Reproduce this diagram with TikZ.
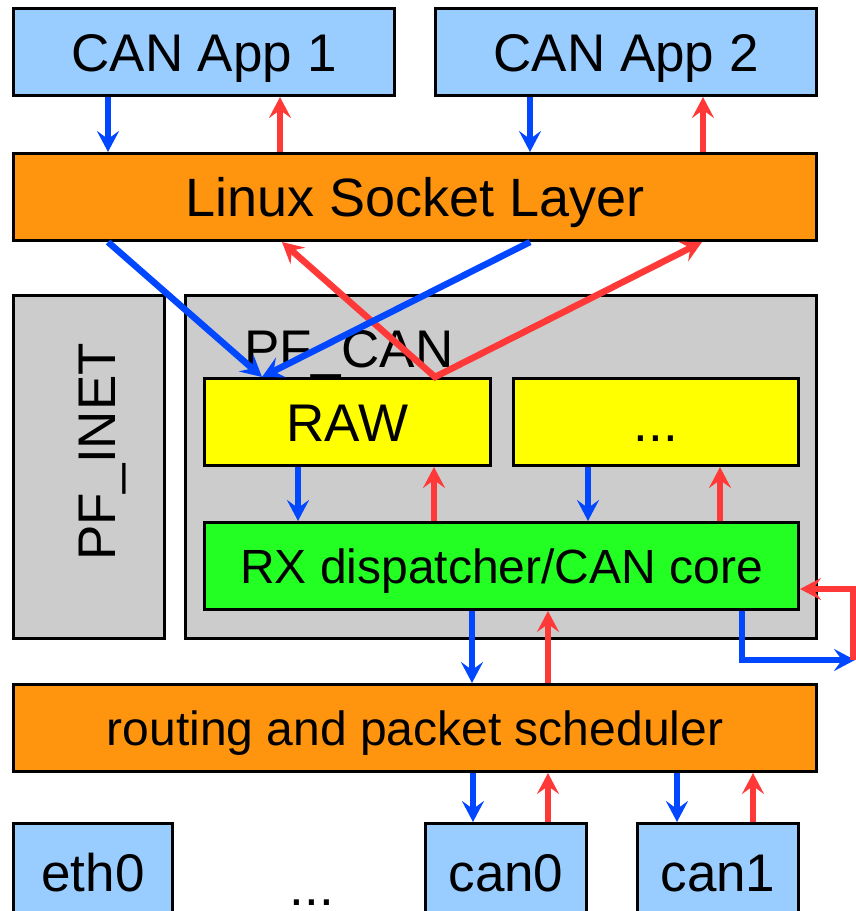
\documentclass[tikz,border=0pt]{standalone}
\usepackage{fontspec}
\setmainfont{Liberation Sans}
\usetikzlibrary{arrows.meta}
\definecolor{appblue}{HTML}{99CCFF}
\definecolor{layerorange}{HTML}{FF950E}
\definecolor{pfgray}{HTML}{CCCCCC}
\definecolor{rawyellow}{HTML}{FFFF00}
\definecolor{coregreen}{HTML}{23FF23}
\definecolor{arrblue}{HTML}{0047FF}
\definecolor{arrred}{HTML}{FF3838}
\tikzset{
  bigtip/.tip   = {Stealth[length=21pt,width=22pt,inset=8pt]},
  blk/.style    = {draw,line width=3pt,inner sep=0pt},
  lbl/.style    = {font=\fontsize{53}{60}\selectfont,text height=38pt,text depth=0pt},
  sml/.style    = {font=\fontsize{48}{56}\selectfont,text height=34.5pt,text depth=0pt},
  dnarr/.style  = {-bigtip,line width=6.5pt,arrblue},
  uparr/.style  = {-bigtip,line width=6.5pt,arrred}
}
% blue arrow down at x=#3, red arrow up at x=#4, between #1 (above) and #2 (below)
\newcommand{\arrpair}[4]{%
  \draw[dnarr] (#1.south -| #3,0) -- (#2.north -| #3,0);
  \draw[uparr] (#2.north -| #4,0) -- (#1.south -| #4,0);
}

\begin{document}
\begin{tikzpicture}[x=1pt,y=-1pt]
  \useasboundingbox (0,0) rectangle (856,911);
  \node[blk,fill=appblue,lbl,minimum width=381pt,minimum height=87pt] (app1) at (204,52) {CAN App 1};
  \node[blk,fill=appblue,lbl,minimum width=381pt,minimum height=87pt] (app2) at (626,52) {CAN App 2};
  \node[blk,fill=layerorange,lbl,font=\fontsize{54}{60}\selectfont,minimum width=803pt,minimum height=87pt] (sock) at (415,197) {Linux Socket Layer};
  % protocol families
  \node[blk,fill=pfgray,minimum width=151pt,minimum height=343pt] (inet) at (89,467) {};
  \node[lbl,rotate=90] (inetname) at (96,452) {PF\_INET};
  \node[blk,fill=pfgray,minimum width=631pt,minimum height=343pt] (pfcan) at (501,467) {};
  \node[lbl,anchor=base west,inner sep=0pt] (pfcanname) at (244,367) {PF\_CAN};
  \node[blk,fill=rawyellow,lbl,minimum width=286pt,minimum height=87pt] (raw) at (347.5,422) {RAW};
  \node[blk,fill=rawyellow,lbl,minimum width=285pt,minimum height=87pt] (other) at (656,422) {...};
  \node[blk,fill=coregreen,sml,minimum width=594pt,minimum height=87pt] (core) at (501.5,566) {RX dispatcher/CAN core};
  \node[blk,fill=layerorange,sml,minimum width=803pt,minimum height=87pt] (sched) at (415,728) {routing and packet scheduler};
  % devices, running off the bottom edge
  \node[blk,fill=appblue,lbl,minimum width=159pt,minimum height=97pt] (eth0) at (93,872) {eth0};
  \node[lbl,anchor=base] (devdots) at (312,905) {...};
  \node[blk,fill=appblue,lbl,minimum width=161pt,minimum height=97pt] (can0) at (506,872) {can0};
  \node[blk,fill=appblue,lbl,minimum width=161pt,minimum height=97pt] (can1) at (718,872) {can1};

  \arrpair{app1}{sock}{108}{280}
  \arrpair{app2}{sock}{530}{703}
  \arrpair{raw}{core}{298}{434}
  \arrpair{other}{core}{588}{720}
  \arrpair{core}{sched}{472}{548}
  \arrpair{sched}{can0}{473}{548}
  \arrpair{sched}{can1}{677}{753}

  \draw[uparr,bigtip-bigtip] (sock.south -| 282,0) -- (raw.north -| 435,0) -- (sock.south -| 702,0);
  \draw[dnarr] (sock.south -| 108,0) -- (raw.north -| 262,0);
  \draw[dnarr] (sock.south -| 530,0) -- (raw.north -| 262,0);

  % loopback past the core
  \coordinate (loopend) at (855,660);
  \coordinate (loopstart) at (853,660);
  \draw[dnarr] (core.south -| 742,0) |- (loopend);
  \draw[uparr] (loopstart) |- (core.east |- 0,589);
\end{tikzpicture}
\end{document}
